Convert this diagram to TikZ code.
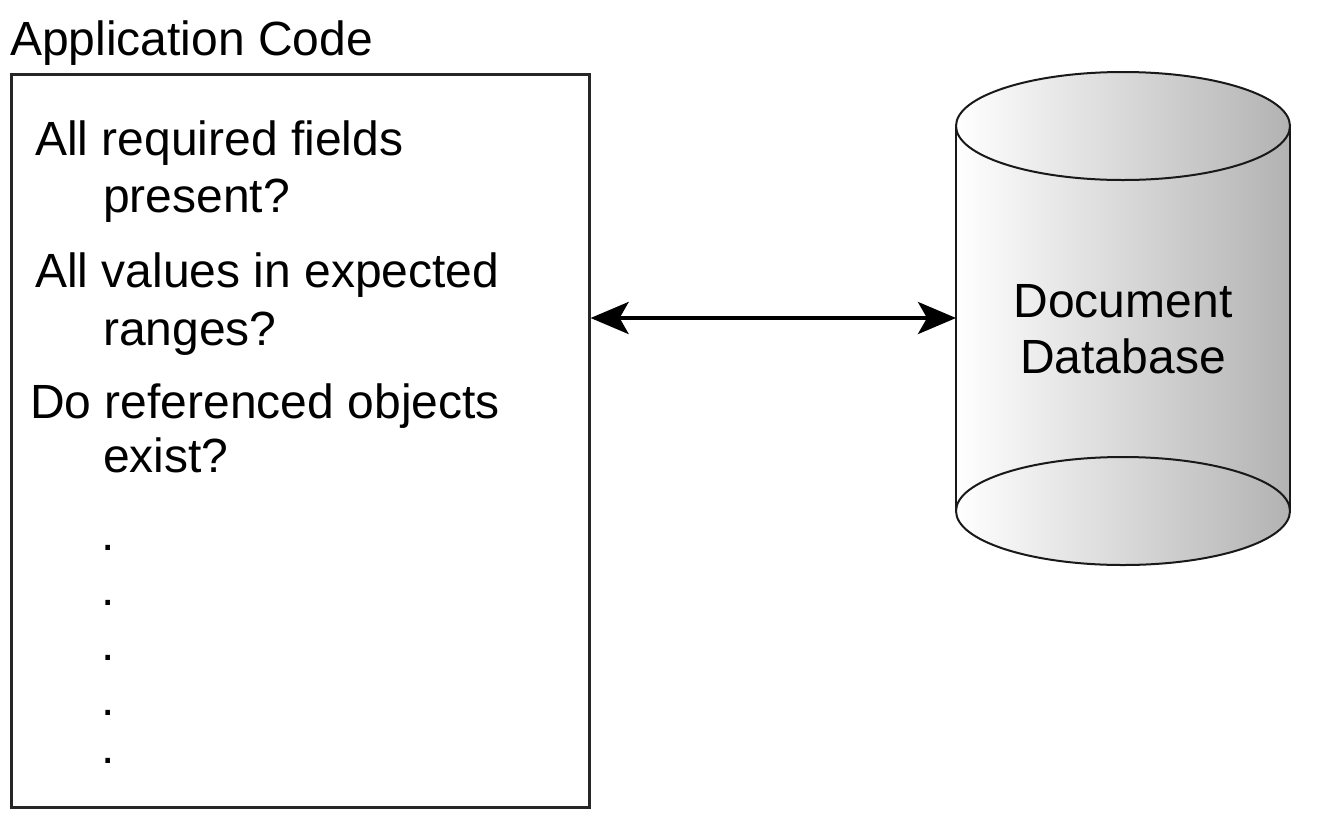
\documentclass[tikz,border=0pt]{standalone}
\usepackage{fontspec}
\setmainfont{Liberation Sans}
\usetikzlibrary{arrows.meta}
\begin{document}
\begin{tikzpicture}[x=1pt,y=-1pt,
  txt/.style={anchor=base west,inner sep=0pt,font=\fontsize{48}{57}\selectfont},
  ctxt/.style={anchor=base,inner sep=0pt,font=\fontsize{48}{57}\selectfont},
  boxstyle/.style={draw=black!85,line width=2.6pt,inner sep=0pt},
  cylfill/.style={left color=white,right color=black!30},
  cylline/.style={draw=black!90,line width=2pt},
  link/.style={line width=4pt,{Stealth[length=38pt,width=32pt,inset=9pt]}-{Stealth[length=38pt,width=32pt,inset=9pt]}}
]
\useasboundingbox (0,0) rectangle (1338,820);
% title
\node[txt] (title) at (10,55) {Application Code};
% application box
\node[boxstyle,minimum width=578pt,minimum height=733pt,anchor=north west] (app) at (10,73) {};
\node[txt] (l1a) at (35,155) {All required fields};
\node[txt] (l1b) at (103,212) {present?};
\node[txt] (l2a) at (35,287) {All values in expected};
\node[txt] (l2b) at (103,345) {ranges?};
\node[txt] (l3a) at (30,418) {Do referenced objects};
\node[txt] (l3b) at (103,472) {exist?};
\node[ctxt] (d1) at (108,550) {.};
\node[ctxt] (d2) at (108,605) {.};
\node[ctxt] (d3) at (108,660) {.};
\node[ctxt] (d4) at (108,715) {.};
\node[ctxt] (d5) at (108,763) {.};
% cylinder
\shade[cylfill] (956,126) rectangle (1290,511);
\shade[cylfill] (1123,511) ellipse [x radius=167, y radius=54];
\draw[cylline] (1123,511) ellipse [x radius=167, y radius=54];
\draw[cylline] (956,126) -- (956,511);
\draw[cylline] (1290,126) -- (1290,511);
\shade[cylfill] (1123,126) ellipse [x radius=167, y radius=54];
\draw[cylline] (1123,126) ellipse [x radius=167, y radius=54];
\node[ctxt] (db) at (1123,317) {Document};
\node[ctxt] (db2) at (1123,373) {Database};
\coordinate (dbW) at (956,318);
% connector
\draw[link] (app.east |- dbW) -- (dbW);
\end{tikzpicture}
\end{document}
